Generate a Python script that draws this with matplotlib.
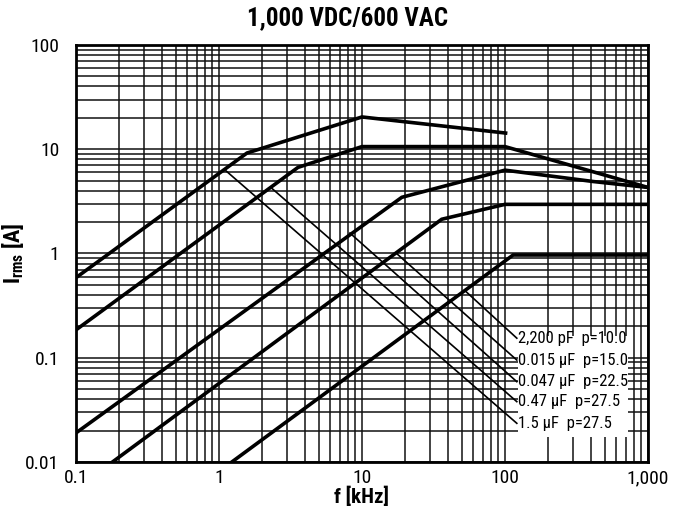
import matplotlib
matplotlib.use('Agg')
import matplotlib.pyplot as plt
from matplotlib.patches import Rectangle

plt.rcParams['font.family'] = ['Roboto Condensed', 'Liberation Sans Narrow', 'Roboto', 'DejaVu Sans']
plt.rcParams['mathtext.fontset'] = 'custom'
plt.rcParams['mathtext.rm'] = 'Roboto Condensed'
plt.rcParams['mathtext.bf'] = 'Roboto Condensed:bold'

# thick curves: Irms limit per capacitance (f in kHz, I in A)
f_1p5uF = [0.1, 1.57, 10, 101]
i_1p5uF = [0.586, 9.2, 20.4, 14.3]
f_0p47uF = [0.1, 3.57, 10, 100, 1000]
i_0p47uF = [0.185, 6.7, 10.6, 10.6, 4.3]
f_0p047uF = [0.1, 19.0, 100, 415, 1000]
i_0p047uF = [0.019, 3.46, 6.3, 4.9, 4.3]
f_0p015uF = [0.18, 36.1, 100, 1000]
i_0p015uF = [0.01, 2.13, 2.96, 2.96]
f_2200pF = [1.23, 114, 1000]
i_2200pF = [0.01, 0.967, 0.967]

# thin leader lines: start on curve, end at label
labels = ['2,200 pF  p=10.0', '0.015 µF  p=15.0', '0.047 µF  p=22.5',
          '0.47 µF  p=27.5', '1.5 µF  p=27.5']
lead_f0 = [52.5, 17.6, 8.24, 2.35, 1.12]
lead_i0 = [0.44, 0.99, 1.57, 4.2, 6.2]
lead_f1 = [121, 121, 121, 121, 121]
lead_i1 = [0.154, 0.095, 0.0589, 0.0379, 0.0235]

xticks = [0.1, 1, 10, 100, 1000]
xticklabels = ['0.1', '1', '10', '100', '1,000']
yticks = [0.01, 0.1, 1, 10, 100]
yticklabels = ['0.01', '0.1', '1', '10', '100']

fig = plt.figure(figsize=(6.81, 5.16), dpi=100)
ax = fig.add_axes([0.1116, 0.1047, 0.8399, 0.8081])
ax.set_xscale('log')
ax.set_yscale('log')
ax.set_xlim(0.1, 1000)
ax.set_ylim(0.01, 100)

ax.set_axisbelow(True)
ax.grid(which='both', color='#111111', lw=1.1)

for f, i in [(f_1p5uF, i_1p5uF), (f_0p47uF, i_0p47uF), (f_0p047uF, i_0p047uF),
             (f_0p015uF, i_0p015uF), (f_2200pF, i_2200pF)]:
    ax.plot(f, i, color='black', lw=2.6, solid_joinstyle='miter', zorder=4)

for k in range(len(labels)):
    ax.plot([lead_f0[k], lead_f1[k]], [lead_i0[k], lead_i1[k]], color='black', lw=1.2, zorder=3)
    ax.text(lead_f1[k] * 1.02, lead_i1[k], labels[k], ha='left', va='center',
            fontsize=12, zorder=5)

# white box behind labels
ax.add_patch(Rectangle((0.773, 0.060), 0.192, 0.242, transform=ax.transAxes,
                       facecolor='white', edgecolor='none', zorder=2))

ax.set_xticks(xticks)
ax.set_xticklabels(xticklabels)
ax.set_yticks(yticks)
ax.set_yticklabels(yticklabels)
ax.tick_params(which='both', length=0, labelsize=14)
ax.tick_params(axis='x', pad=5)
ax.tick_params(axis='y', pad=12)
for s in ax.spines.values():
    s.set_linewidth(2.0)

ax.set_xlabel('f [kHz]', fontsize=15, fontweight='bold', labelpad=0)
ax.set_ylabel(r'$\mathbf{I_{rms}}$ [A]', fontsize=16, fontweight='bold')
ax.yaxis.set_label_coords(-0.088, 0.5)
fig.suptitle('1,000 VDC/600 VAC', x=0.51, y=0.965, va='center',
             fontsize=18, fontweight='bold')

fig.savefig('out.png', dpi=100)
